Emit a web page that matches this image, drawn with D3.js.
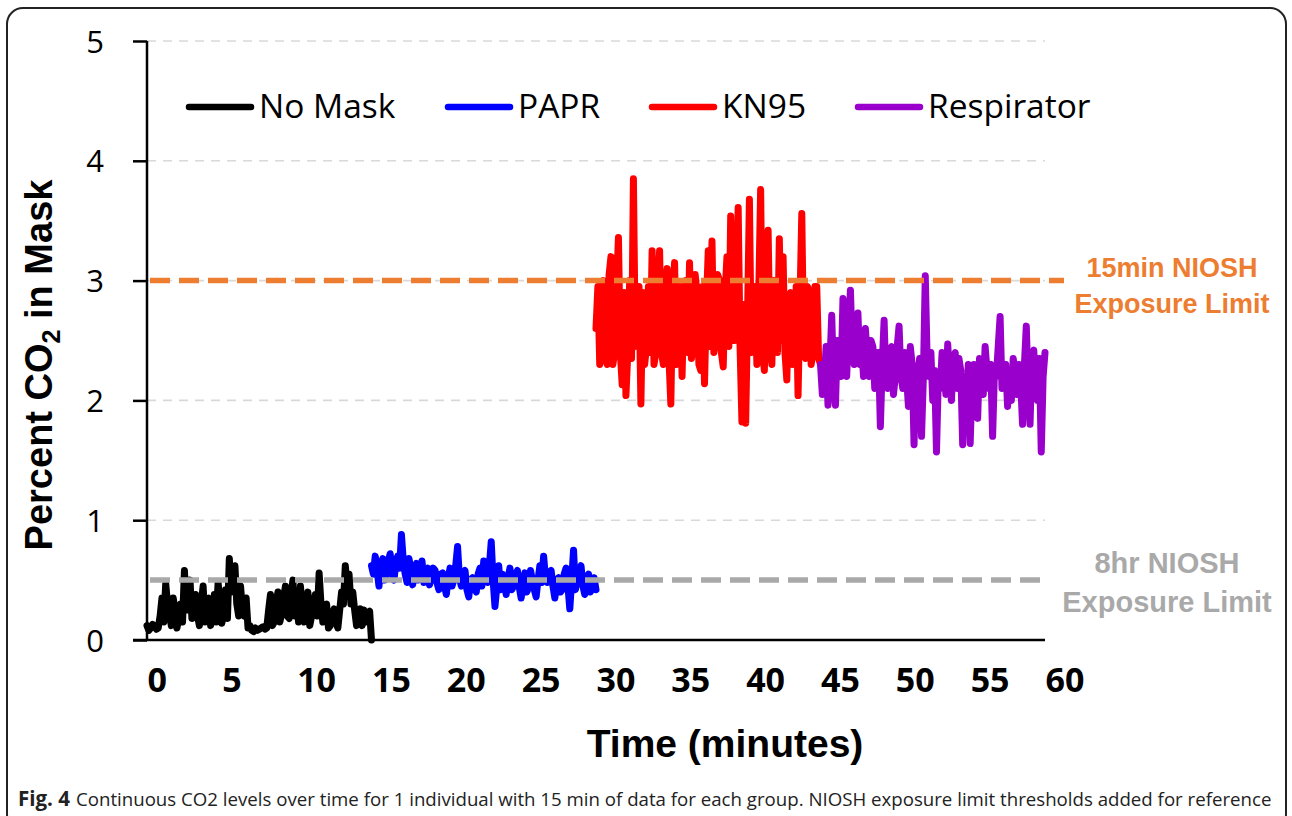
<!DOCTYPE html>
<html>
<head>
<meta charset="utf-8">
<script src="https://cdn.jsdelivr.net/npm/d3@7"></script>
<style>
  html, body { margin: 0; padding: 0; background: #fff; }
  svg { display: block; }
</style>
</head>
<body>
<svg id="chart" width="1292" height="816"></svg>
<script>
// ---------------- DATA ----------------
const seriesNames = ["No Mask", "PAPR", "KN95", "Respirator"];
const seriesColors = ["#000000", "#0000FF", "#FF0000", "#9900CC"];
const seriesStart = [0, 15, 30, 45];   // minutes
const sampleStep = 0.125;              // minutes between samples

const noMask = [
  0.12,0.08,0.10,0.13,0.12,0.09,0.10,0.20,0.35,0.15,0.47,0.30,0.22,0.12,0.35,0.25,
  0.10,0.18,0.30,0.15,0.58,0.25,0.40,0.50,0.18,0.30,0.38,0.20,0.12,0.30,0.45,0.15,
  0.28,0.35,0.12,0.20,0.38,0.15,0.48,0.30,0.14,0.25,0.42,0.18,0.68,0.40,0.55,0.62,
  0.30,0.20,0.45,0.25,0.20,0.35,0.10,0.12,0.08,0.07,0.10,0.08,0.09,0.10,0.11,0.09,
  0.10,0.25,0.38,0.12,0.15,0.30,0.40,0.15,0.22,0.35,0.45,0.20,0.18,0.38,0.50,0.20,
  0.35,0.15,0.45,0.28,0.15,0.32,0.40,0.12,0.20,0.30,0.38,0.20,0.56,0.30,0.15,0.25,
  0.30,0.10,0.12,0.20,0.26,0.15,0.10,0.25,0.40,0.30,0.62,0.45,0.55,0.30,0.40,0.25,
  0.12,0.22,0.26,0.12,0.25,0.15,0.22,0.24,0.00];
const papr = [
  0.62,0.55,0.70,0.58,0.45,0.62,0.68,0.50,0.55,0.66,0.72,0.56,0.50,0.64,0.70,0.60,
  0.88,0.66,0.55,0.48,0.68,0.60,0.46,0.58,0.64,0.50,0.58,0.66,0.48,0.55,0.60,0.46,
  0.52,0.60,0.58,0.48,0.42,0.55,0.56,0.45,0.38,0.52,0.60,0.45,0.50,0.62,0.78,0.52,
  0.45,0.55,0.58,0.42,0.36,0.50,0.52,0.44,0.40,0.55,0.60,0.45,0.66,0.55,0.48,0.62,
  0.82,0.50,0.28,0.45,0.62,0.42,0.55,0.48,0.38,0.52,0.60,0.42,0.45,0.55,0.58,0.44,
  0.35,0.48,0.56,0.40,0.44,0.58,0.50,0.42,0.36,0.50,0.62,0.48,0.70,0.52,0.48,0.56,
  0.58,0.45,0.35,0.50,0.52,0.40,0.42,0.55,0.60,0.45,0.26,0.50,0.75,0.42,0.50,0.58,
  0.62,0.45,0.38,0.52,0.55,0.40,0.44,0.52,0.42];
const kn95 = [
  2.60,2.95,2.30,2.90,3.00,2.35,2.30,3.05,3.20,2.30,2.40,2.95,3.36,2.40,2.13,2.90,
  2.04,2.40,3.00,2.35,3.85,2.45,2.50,2.95,1.97,2.90,2.30,2.45,2.95,2.40,3.25,2.30,
  2.40,2.95,3.25,2.40,2.30,2.95,3.10,2.35,1.97,2.90,3.15,2.30,2.40,2.95,2.20,2.85,
  3.00,2.40,3.15,2.35,2.45,3.05,2.90,2.30,2.25,2.95,2.14,2.80,3.25,2.45,3.33,2.40,
  2.50,3.05,3.00,2.40,2.28,2.90,3.20,2.45,3.54,2.50,2.50,3.00,3.61,2.45,1.82,2.80,
  1.81,2.70,3.68,2.40,2.50,2.95,2.30,2.90,3.76,2.40,2.25,2.95,3.42,2.45,2.30,3.00,
  2.90,2.40,3.35,2.50,3.20,2.40,2.17,2.85,2.90,2.30,2.40,2.95,2.04,2.80,3.56,2.40,
  2.35,2.95,2.90,2.30,2.40,2.95,2.95,2.35,2.30];
const respirator = [
  2.30,2.05,2.15,2.45,1.96,2.30,2.71,2.15,1.96,2.50,2.40,2.20,2.85,2.35,2.20,2.60,
  2.92,2.40,2.30,2.55,2.73,2.30,2.45,2.20,2.60,2.35,2.20,2.50,2.45,2.10,2.15,2.40,
  1.78,2.30,2.67,2.15,2.10,2.40,2.45,2.05,2.20,2.45,2.62,2.20,2.10,2.40,2.20,1.95,
  2.45,2.30,1.63,2.25,2.20,2.35,1.70,2.20,3.04,2.35,2.20,2.40,2.00,2.25,1.57,2.20,
  2.10,2.40,2.35,2.05,2.47,2.20,2.00,2.35,2.40,2.10,2.35,2.25,1.63,2.20,2.00,2.30,
  1.64,2.15,2.30,2.10,1.85,2.35,2.30,2.05,2.45,2.25,2.10,2.30,1.70,2.25,2.20,2.45,
  2.70,2.10,2.20,2.30,1.95,2.25,2.00,2.35,2.25,2.05,2.30,2.15,1.80,2.30,2.62,2.10,
  1.80,2.35,2.42,2.10,2.00,2.35,1.57,2.20,2.40];
const seriesValues = [noMask, papr, kn95, respirator];

const xTicks = [0,5,10,15,20,25,30,35,40,45,50,55,60];
const yTicks = [0,1,2,3,4,5];
const thresholdValues = [3, 0.5];
const thresholdLabels = [["15min NIOSH", "Exposure Limit"], ["8hr NIOSH", "Exposure Limit"]];
const thresholdColors = ["#ED7D31", "#A9A9A9"];
const xTitle = "Time (minutes)";
const captionBold = "Fig. 4";
const captionText = "Continuous CO2 levels over time for 1 individual with 15 min of data for each group. NIOSH exposure limit thresholds added for reference";

// ---------------- LAYOUT ----------------
const svg = d3.select("#chart");
const x = d3.scaleLinear().domain([0, 60]).range([147, 1045]);
const y = d3.scaleLinear().domain([0, 5]).range([640, 41]);

// frame
svg.append("rect")
  .attr("x", 7).attr("y", 8).attr("width", 1279).attr("height", 822)
  .attr("rx", 16).attr("ry", 16)
  .attr("fill", "none").attr("stroke", "#222").attr("stroke-width", 2);

// gridlines
svg.append("g").selectAll("line").data(yTicks.filter(d => d > 0)).join("line")
  .attr("x1", x(0)).attr("x2", x(60))
  .attr("y1", d => y(d)).attr("y2", d => y(d))
  .attr("stroke", "#D9D9D9").attr("stroke-width", 1.6)
  .attr("stroke-dasharray", "9,7");

// data lines
const line = d3.line().x(d => x(d.t)).y(d => y(d.v));
seriesValues.forEach((vals, i) => {
  const pts = vals.map((v, j) => ({ t: seriesStart[i] + j * sampleStep, v }));
  svg.append("path")
    .datum(pts)
    .attr("d", line)
    .attr("fill", "none")
    .attr("stroke", seriesColors[i])
    .attr("stroke-width", 7)
    .attr("stroke-linejoin", "round")
    .attr("stroke-linecap", "round");
});

// thresholds
const thrEnd = [1064, 1047];
thresholdValues.forEach((v, i) => {
  svg.append("line")
    .attr("x1", x(0) + 3).attr("x2", thrEnd[i])
    .attr("y1", y(v)).attr("y2", y(v))
    .attr("stroke", thresholdColors[i]).attr("stroke-width", 5.5)
    .attr("stroke-dasharray", "20,9");
});
const thrLabelX = [1172, 1167];
const thrLabelY = [[277, 313], [573, 612]];
const thrLabelSize = [27, 29];
thresholdLabels.forEach((lines, i) => {
  lines.forEach((txt, k) => {
    svg.append("text")
      .attr("x", thrLabelX[i]).attr("y", thrLabelY[i][k])
      .attr("text-anchor", "middle")
      .attr("font-family", "'Liberation Sans', Arial, sans-serif")
      .attr("font-weight", "bold")
      .attr("font-size", thrLabelSize[i])
      .attr("fill", thresholdColors[i])
      .text(txt);
  });
});

// y axis
const yAxis = d3.axisLeft(y).tickValues(yTicks).tickSize(14).tickPadding(29).tickFormat(d3.format("d"));
const gy = svg.append("g").attr("transform", `translate(${x(0)},0)`).call(yAxis);
gy.select(".domain").remove();
gy.selectAll(".tick line").attr("stroke", "#000").attr("stroke-width", 2.5);
gy.selectAll(".tick text")
  .attr("font-family", "'Open Sans', sans-serif")
  .attr("font-size", 31).attr("fill", "#000").attr("dy", "0.36em");
svg.append("line")
  .attr("x1", x(0)).attr("x2", x(0)).attr("y1", y(5)).attr("y2", y(0))
  .attr("stroke", "#000").attr("stroke-width", 2.5);

// x axis
const xAxis = d3.axisBottom(x).tickValues(xTicks).tickSize(0).tickPadding(0);
const gx = svg.append("g").attr("transform", `translate(0,${y(0)})`).call(xAxis);
gx.select(".domain").remove();
gx.selectAll(".tick text")
  .attr("text-anchor", "start")
  .attr("x", 0).attr("y", 52).attr("dy", 0)
  .attr("font-family", "'Open Sans', sans-serif")
  .attr("font-weight", "bold")
  .attr("font-size", 34).attr("fill", "#000");
svg.append("line")
  .attr("x1", x(0) - 14).attr("x2", x(60)).attr("y1", y(0)).attr("y2", y(0))
  .attr("stroke", "#000").attr("stroke-width", 2.5);

// axis titles
svg.append("text")
  .attr("transform", `translate(52,365) rotate(-90)`)
  .attr("text-anchor", "middle")
  .attr("font-family", "'Liberation Sans', Arial, sans-serif")
  .attr("font-weight", "bold").attr("font-size", 38).attr("fill", "#000")
  .call(t => {
    t.append("tspan").text("Percent CO");
    t.append("tspan").attr("font-size", 25).attr("dy", 8).text("2");
    t.append("tspan").attr("dy", -8).text(" in Mask");
  });
svg.append("text")
  .attr("x", 725).attr("y", 757)
  .attr("text-anchor", "middle")
  .attr("font-family", "'Liberation Sans', Arial, sans-serif")
  .attr("font-weight", "bold").attr("font-size", 39).attr("fill", "#000")
  .text(xTitle);

// legend (text start positions)
const legendTextX = [259, 518, 722, 928];
seriesNames.forEach((name, i) => {
  const g = svg.append("g").attr("transform", `translate(${legendTextX[i]},107)`);
  g.append("line").attr("x1", -70).attr("x2", -8).attr("y1", 0).attr("y2", 0)
    .attr("stroke", seriesColors[i]).attr("stroke-width", 6.5).attr("stroke-linecap", "round");
  g.append("text").attr("x", 0).attr("y", 11)
    .attr("font-family", "'Open Sans', sans-serif")
    .attr("font-size", 33.5).attr("fill", "#000")
    .text(name);
});

// caption: fit font size so the natural width matches the caption line
const capFont = "'Liberation Sans Narrow', 'Open Sans', sans-serif";
const capBold = svg.append("text")
  .attr("x", 18).attr("y", 806)
  .attr("font-family", capFont).attr("font-weight", "bold")
  .attr("font-size", 21).attr("fill", "#222")
  .text(captionBold);
const capRest = svg.append("text")
  .attr("y", 806)
  .attr("font-family", capFont)
  .attr("font-size", 21).attr("fill", "#222")
  .text(captionText);
const boldW = capBold.node().getComputedTextLength();
const fsB = 21 * Math.min(1, 52 / boldW);
capBold.attr("font-size", fsB);
const restStart = 18 + capBold.node().getComputedTextLength() + 6;
const restW = capRest.node().getComputedTextLength();
const fsR = 21 * Math.min(1.15, (1272 - restStart) / restW);
capRest.attr("x", restStart).attr("font-size", fsR);
</script>
</body>
</html>
